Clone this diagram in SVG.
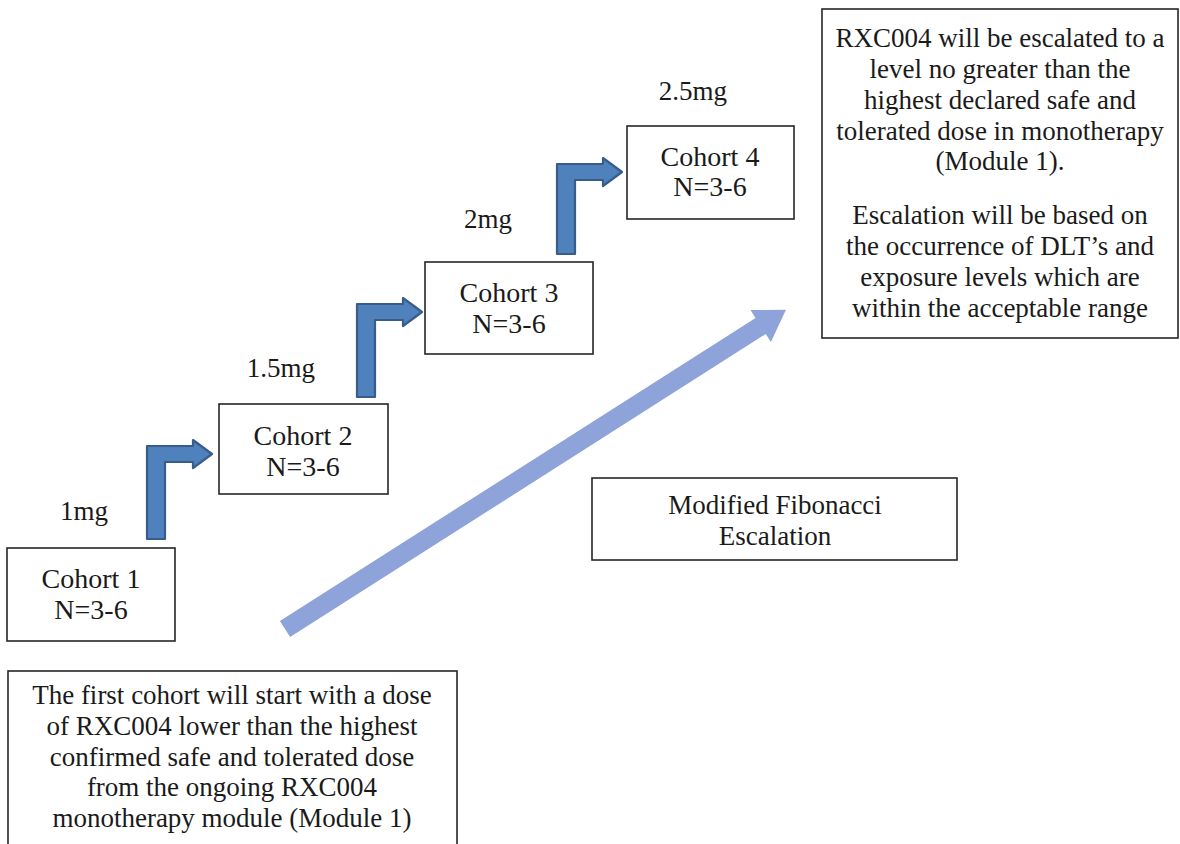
<svg xmlns="http://www.w3.org/2000/svg" width="1180" height="844" viewBox="0 0 1180 844">
<style>
.box{fill:#fff;stroke:#262626;stroke-width:1.6}
.t{font-family:"Liberation Serif","Times New Roman",serif;font-size:27px;fill:#1a1a1a;text-anchor:middle}
.c{font-family:"Liberation Serif","Times New Roman",serif;font-size:28px;fill:#1a1a1a;text-anchor:middle}
.bent{fill:#4F81BD;stroke:#385D8A;stroke-width:2.2;stroke-linejoin:round}
.big{fill:#8DA3D9}
</style>
<rect width="1180" height="844" fill="#fff"/>
<g id="connectors">
  <polygon class="big" transform="translate(285,629) rotate(-32.5)" points="0,-9.5 564,-9.5 564,-19 594,0 564,19 564,9.5 0,9.5"/>
  <path class="bent" d="M147,539 L147,446 L193,446 L193,440 L212,454 L193,468 L193,462 L165,462 L165,539 Z"/>
  <path class="bent" d="M357,397 L357,304 L403,304 L403,298 L422,312 L403,326 L403,320 L375,320 L375,397 Z"/>
  <path class="bent" d="M557,254 L557,164 L603,164 L603,158 L622,172 L603,186 L603,180 L575,180 L575,254 Z"/>
</g>
<g id="label-1mg"><text class="t" x="84" y="520">1mg</text></g>
<g id="label-15mg"><text class="t" x="281" y="377">1.5mg</text></g>
<g id="label-2mg"><text class="t" x="488" y="228">2mg</text></g>
<g id="label-25mg"><text class="t" x="693" y="100">2.5mg</text></g>
<g id="cohort1">
  <rect class="box" x="7" y="548" width="168" height="93"/>
  <text class="c" x="91" y="588">Cohort 1</text>
  <text class="c" x="91" y="619">N=3-6</text>
</g>
<g id="cohort2">
  <rect class="box" x="219" y="404" width="169" height="90"/>
  <text class="c" x="303" y="445">Cohort 2</text>
  <text class="c" x="303" y="476">N=3-6</text>
</g>
<g id="cohort3">
  <rect class="box" x="425" y="262" width="168" height="92"/>
  <text class="c" x="509" y="302">Cohort 3</text>
  <text class="c" x="509" y="333">N=3-6</text>
</g>
<g id="cohort4">
  <rect class="box" x="627" y="126" width="167" height="93"/>
  <text class="c" x="710" y="166">Cohort 4</text>
  <text class="c" x="710" y="196">N=3-6</text>
</g>
<g id="fibonacci">
  <rect class="box" x="592" y="478" width="365" height="82"/>
  <text class="t" x="775" y="514">Modified Fibonacci</text>
  <text class="t" x="775" y="545">Escalation</text>
</g>
<g id="escalation-note">
  <rect class="box" x="822" y="9" width="356" height="329"/>
  <text class="t" x="1000" y="47">RXC004 will be escalated to a</text>
  <text class="t" x="1000" y="78">level no greater than the</text>
  <text class="t" x="1000" y="109">highest declared safe and</text>
  <text class="t" x="1000" y="140">tolerated dose in monotherapy</text>
  <text class="t" x="1000" y="170">(Module 1).</text>
  <text class="t" x="1000" y="224">Escalation will be based on</text>
  <text class="t" x="1000" y="255">the occurrence of DLT’s and</text>
  <text class="t" x="1000" y="286">exposure levels which are</text>
  <text class="t" x="1000" y="317">within the acceptable range</text>
</g>
<g id="start-note">
  <rect class="box" x="8" y="671" width="449" height="190"/>
  <text class="t" x="232" y="704">The first cohort will start with a dose</text>
  <text class="t" x="232" y="735">of RXC004 lower than the highest</text>
  <text class="t" x="232" y="766">confirmed safe and tolerated dose</text>
  <text class="t" x="232" y="796">from the ongoing RXC004</text>
  <text class="t" x="232" y="827">monotherapy module (Module 1)</text>
</g>
</svg>
